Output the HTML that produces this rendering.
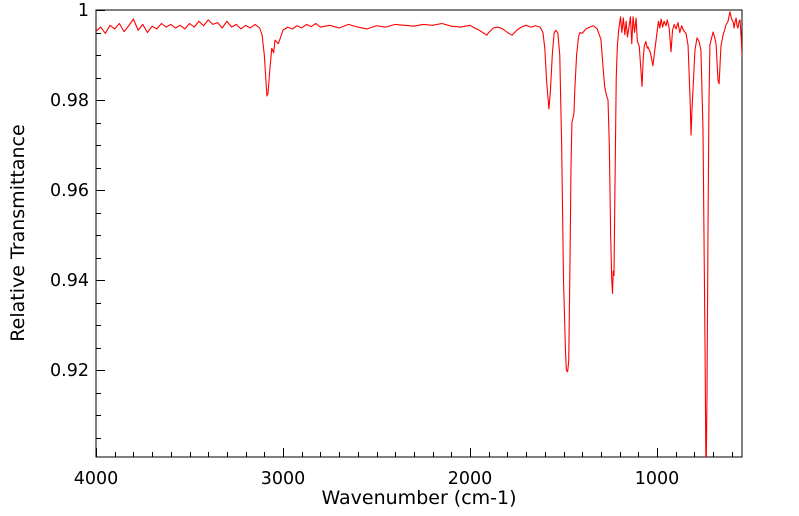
<!DOCTYPE html>
<html><head><meta charset="utf-8"><style>
html,body{margin:0;padding:0;background:#fff;}
svg{display:block;font-family:"DejaVu Sans","Liberation Sans",sans-serif;}
</style></head><body>
<svg id="chart" width="799" height="516" viewBox="0 0 799 516" xmlns="http://www.w3.org/2000/svg">
<defs><clipPath id="clip"><rect x="96" y="10" width="646" height="447"/></clipPath></defs>
<rect x="96" y="10" width="646" height="447" fill="#fff" stroke="#000" stroke-width="1"/>
<g id="ticks"></g>
<g id="labels" font-size="17.5" fill="#000"></g>
<path id="spectrum" clip-path="url(#clip)" fill="none" stroke="#ff0000" stroke-width="1.1" stroke-linejoin="round"/>
<text x="419" y="504" font-size="19" text-anchor="middle">Wavenumber (cm-1)</text>
<text x="24" y="233" font-size="19" text-anchor="middle" transform="rotate(-90 24 233)">Relative Transmittance</text>
</svg>
<script>
const wavenumbers = [4000,3975,3950,3925,3900,3875,3850,3825,3800,3775,3750,3725,3700,3675,3650,3625,3600,3575,3550,3525,3500,3475,3450,3425,3400,3375,3350,3325,3300,3275,3250,3225,3200,3175,3150,3125,3112,3100,3086,3080,3070,3060,3050,3043,3025,3000,2975,2950,2925,2900,2875,2850,2825,2800,2750,2700,2650,2600,2550,2500,2450,2400,2350,2300,2250,2200,2150,2100,2050,2000,1975,1950,1925,1910,1900,1875,1850,1825,1800,1775,1750,1725,1700,1675,1650,1625,1610,1600,1590,1578,1570,1560,1550,1540,1530,1520,1510,1500,1490,1485,1478,1472,1465,1460,1455,1444,1440,1430,1420,1412,1400,1380,1360,1340,1320,1300,1290,1280,1270,1262,1255,1248,1242,1238,1234,1230,1225,1218,1212,1205,1195,1188,1180,1172,1165,1158,1150,1142,1135,1128,1120,1112,1105,1095,1080,1074,1068,1060,1052,1048,1035,1022,1012,1000,992,985,978,970,962,952,945,935,925,917,908,898,888,878,868,859,845,834,823,818,813,807,797,786,775,765,754,743,738,733,727,722,717,711,700,692,684,674,668,658,647,639,631,620,610,604,599,592,588,582,577,572,567,561,556,550,545];
const transmittance = [.9953,.9962,.9948,.9966,.9958,.9970,.9952,.9965,.9980,.9955,.9968,.9950,.9964,.9958,.9970,.9962,.9968,.9960,.9966,.9958,.9970,.9962,.9975,.9965,.9978,.9968,.9972,.9960,.9975,.9962,.9968,.9958,.9966,.9960,.9968,.9960,.9945,.9900,.9809,.9815,.9870,.9915,.9905,.9933,.9925,.9955,.9962,.9958,.9965,.9960,.9968,.9963,.9970,.9962,.9966,.9960,.9968,.9962,.9958,.9965,.9962,.9968,.9966,.9964,.9968,.9966,.9970,.9964,.9962,.9966,.9960,.9955,.9948,.9944,.9950,.9960,.9962,.9958,.9950,.9944,.9955,.9962,.9966,.9962,.9965,.9962,.9950,.9915,.9840,.9780,.9820,.9900,.9950,.9955,.9948,.9900,.9700,.9400,.9250,.9200,.9196,.9220,.9450,.9650,.9750,.9770,.9820,.9900,.9940,.9950,.9948,.9958,.9962,.9965,.9958,.9935,.9880,.9830,.9810,.9800,.9700,.9500,.9400,.9370,.9420,.9410,.9600,.9850,.9920,.9955,.9985,.9950,.9982,.9945,.9975,.9940,.9962,.9985,.9925,.9985,.9950,.9982,.9930,.9920,.9830,.9890,.9920,.9930,.9915,.9918,.9905,.9876,.9910,.9950,.9975,.9960,.9980,.9962,.9975,.9965,.9978,.9960,.9907,.9955,.9968,.9958,.9972,.9950,.9965,.9955,.9948,.9922,.9800,.9722,.9778,.9827,.9911,.9938,.9930,.9910,.9733,.9240,.8950,.9130,.9530,.9800,.9922,.9933,.9951,.9940,.9924,.9844,.9836,.9920,.9944,.9955,.9967,.9975,.9996,.9985,.9978,.9972,.9960,.9975,.9982,.9965,.9960,.9975,.9978,.9940,.9896];
const xMajorTicks = [4000,3000,2000,1000];
const xTickLabels = ["4000","3000","2000","1000"];
const yMajorTicks = [1,0.98,0.96,0.94,0.92];
const yTickLabels = ["1","0.98","0.96","0.94","0.92"];

const X0=96,X1=742,Y0=10,Y1=457,WMAX=4000,WMIN=545.5,TMAX=1,TMIN=0.90067;
function xs(w){return X0+(WMAX-w)/(WMAX-WMIN)*(X1-X0);}
function ys(t){return Y0+(TMAX-t)/(TMAX-TMIN)*(Y1-Y0);}
const NS="http://www.w3.org/2000/svg";
let d="";
for(let i=0;i<wavenumbers.length;i++){d+=(i?"L":"M")+xs(wavenumbers[i]).toFixed(2)+","+ys(transmittance[i]).toFixed(2);}
document.getElementById("spectrum").setAttribute("d",d);
const tg=document.getElementById("ticks"), lg=document.getElementById("labels");
function line(x1,y1,x2,y2,name){const l=document.createElementNS(NS,"line");
l.setAttribute("x1",x1);l.setAttribute("y1",y1);l.setAttribute("x2",x2);l.setAttribute("y2",y2);
l.setAttribute("stroke","#000");l.setAttribute("stroke-width","1");


tg.appendChild(l);}
for(let w=4000;w>=WMIN;w-=100){const x=Math.round(xs(w))+0.5;const major=(w%1000===0);line(x,Y1,x,Y1-(major?9:5),major?"x-major-tick":"x-minor-tick");}
for(let t=1;t>=TMIN;t-=0.005){const y=Math.round(ys(t))+0.5;const major=Math.abs(Math.round(t*50)-t*50)<1e-6;line(X0,y,X0+(major?9:5),y,major?"y-major-tick":"y-minor-tick");}
xMajorTicks.forEach((w,i)=>{const t=document.createElementNS(NS,"text");
t.setAttribute("x",xs(w));t.setAttribute("y",484);t.setAttribute("text-anchor","middle");t.textContent=xTickLabels[i];


lg.appendChild(t);});
yMajorTicks.forEach((v,i)=>{const t=document.createElementNS(NS,"text");
t.setAttribute("x",89);t.setAttribute("y",ys(v)+6);t.setAttribute("text-anchor","end");t.textContent=yTickLabels[i];


lg.appendChild(t);});
</script>
</body></html>
